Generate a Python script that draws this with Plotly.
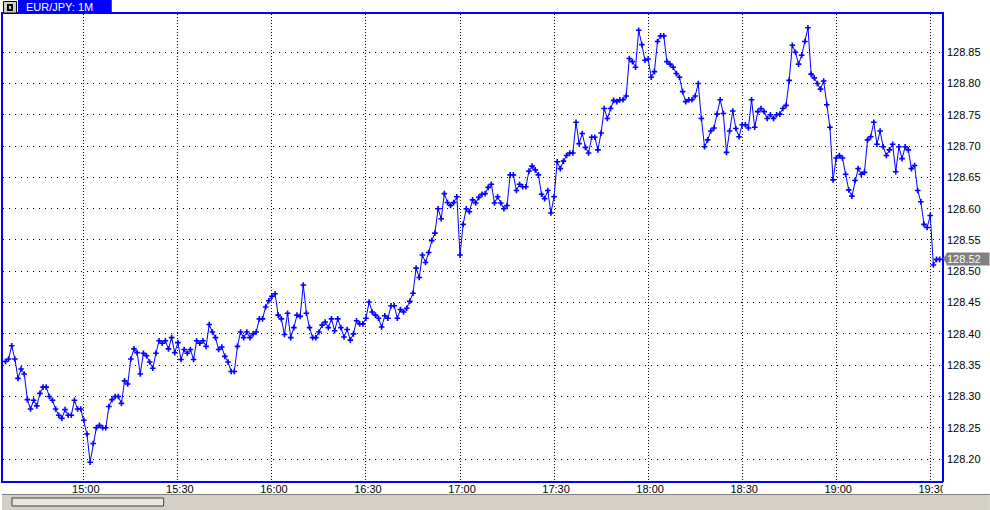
import pandas as pd
import plotly.graph_objects as go

# ---- data (EUR/JPY 1-minute closes) ----
start_time = "2005-01-03 14:35"
p_1435 = [128.356, 128.360, 128.381, 128.360, 128.329, 128.344, 128.336, 128.295, 128.280, 128.294,
          128.285, 128.305, 128.315, 128.315, 128.300, 128.294, 128.280, 128.270, 128.265, 128.279,
          128.270, 128.270, 128.294, 128.280, 128.280]
p_1500 = [128.262, 128.240, 128.195, 128.225, 128.250, 128.254, 128.250, 128.250, 128.284, 128.295,
          128.300, 128.300, 128.289, 128.325, 128.320, 128.360, 128.376, 128.370, 128.336, 128.369,
          128.365, 128.355, 128.345, 128.369, 128.389, 128.385, 128.389, 128.376, 128.394, 128.370]
p_1530 = [128.386, 128.359, 128.375, 128.369, 128.375, 128.359, 128.389, 128.385, 128.389, 128.380,
          128.415, 128.403, 128.394, 128.375, 128.379, 128.364, 128.355, 128.340, 128.340, 128.380,
          128.403, 128.394, 128.403, 128.394, 128.400, 128.403, 128.424, 128.424, 128.443, 128.453]
p_1600 = [128.460, 128.464, 128.430, 128.424, 128.399, 128.433, 128.394, 128.410, 128.430, 128.428,
          128.478, 128.433, 128.410, 128.394, 128.394, 128.403, 128.414, 128.419, 128.410, 128.424,
          128.405, 128.424, 128.410, 128.395, 128.407, 128.390, 128.400, 128.421, 128.416, 128.416]
p_1630 = [128.425, 128.451, 128.435, 128.430, 128.425, 128.411, 128.429, 128.425, 128.445, 128.445,
          128.425, 128.439, 128.435, 128.441, 128.452, 128.465, 128.505, 128.490, 128.526, 128.514,
          128.530, 128.549, 128.561, 128.600, 128.584, 128.624, 128.610, 128.605, 128.610, 128.619]
p_1700 = [128.526, 128.575, 128.600, 128.595, 128.614, 128.609, 128.618, 128.623, 128.624, 128.634,
          128.639, 128.609, 128.619, 128.609, 128.600, 128.605, 128.654, 128.654, 128.629, 128.639,
          128.635, 128.635, 128.660, 128.668, 128.662, 128.654, 128.623, 128.616, 128.629, 128.593]
p_1730 = [128.619, 128.675, 128.664, 128.676, 128.685, 128.689, 128.689, 128.738, 128.704, 128.720,
          128.698, 128.689, 128.714, 128.714, 128.694, 128.721, 128.760, 128.744, 128.760, 128.773,
          128.771, 128.774, 128.774, 128.780, 128.840, 128.835, 128.826, 128.885, 128.862, 128.837]
p_1800 = [128.839, 128.810, 128.819, 128.867, 128.876, 128.876, 128.835, 128.831, 128.826, 128.816,
          128.810, 128.787, 128.771, 128.774, 128.774, 128.780, 128.800, 128.744, 128.699, 128.710,
          128.724, 128.729, 128.751, 128.774, 128.752, 128.690, 128.724, 128.756, 128.728, 128.715]
p_1830 = [128.734, 128.734, 128.729, 128.774, 128.730, 128.755, 128.760, 128.755, 128.744, 128.750,
          128.744, 128.750, 128.751, 128.760, 128.765, 128.805, 128.861, 128.850, 128.831, 128.845,
          128.867, 128.889, 128.815, 128.809, 128.800, 128.791, 128.804, 128.766, 128.730, 128.646]
p_1900 = [128.681, 128.685, 128.681, 128.655, 128.630, 128.620, 128.645, 128.664, 128.655, 128.658,
          128.710, 128.715, 128.738, 128.703, 128.724, 128.699, 128.685, 128.694, 128.703, 128.659,
          128.699, 128.680, 128.699, 128.694, 128.664, 128.669, 128.629, 128.611, 128.575, 128.570,
          128.589, 128.510, 128.519, 128.519]

y_ticks = [128.20, 128.25, 128.30, 128.35, 128.40, 128.45, 128.50,
           128.55, 128.60, 128.65, 128.70, 128.75, 128.80, 128.85]
x_tick_labels = ["15:00", "15:30", "16:00", "16:30", "17:00", "17:30",
                 "18:00", "18:30", "19:00", "19:30"]
y_range = [128.165, 128.911]
x_range = ["2005-01-03 14:34:13", "2005-01-03 19:33:45"]
title_text = "EUR/JPY: 1M"

prices = p_1435 + p_1500 + p_1530 + p_1600 + p_1630 + p_1700 + p_1730 + p_1800 + p_1830 + p_1900
times = pd.date_range(start_time, periods=len(prices), freq="1min")
x_tick_vals = [pd.Timestamp("2005-01-03 " + t) for t in x_tick_labels]
last_price = round(prices[-1], 2)

# ---- geometry helpers (pixels -> paper) ----
W, H = 990, 510
ML, MR, MT, MB = 1, 48, 14, 29
PW, PH = W - ML - MR, H - MT - MB


def px(x):
    return (x - ML) / PW


def py(y):
    return (H - MB - y) / PH


FONT = "Liberation Sans, Arial, sans-serif"
BLUE = "#0000FF"

fig = go.Figure()
fig.add_trace(go.Scatter(
    x=times, y=prices, mode="lines+markers",
    line=dict(color=BLUE, width=1),
    marker=dict(symbol="cross-thin", size=4, line=dict(color=BLUE, width=1.6)),
    hoverinfo="skip", showlegend=False,
))

fig.update_layout(
    width=W, height=H,
    margin=dict(l=ML, r=MR, t=MT, b=MB, pad=0),
    paper_bgcolor="white", plot_bgcolor="white",
    font=dict(family=FONT, size=11, color="black"),
    xaxis=dict(
        type="date", range=x_range, tickvals=x_tick_vals, ticktext=x_tick_labels,
        showgrid=True, gridcolor="#000000", gridwidth=1, griddash="1px,2px",
        ticks="", showline=True, linecolor=BLUE, linewidth=1.5, mirror=True,
        zeroline=False, ticklabelshift=2, ticklabelstandoff=-3,
        tickfont=dict(family=FONT, size=11, color="black"),
    ),
    yaxis=dict(
        side="right", range=y_range, tickvals=y_ticks, tickformat=".2f",
        showgrid=True, gridcolor="#000000", gridwidth=1, griddash="1px,5px",
        ticks="", showline=True, linecolor=BLUE, linewidth=1.5, mirror=True,
        zeroline=False, ticklabelstandoff=1,
        tickfont=dict(family=FONT, size=11, color="black"),
    ),
)

shapes = []
# clip the last time label at the plot border
shapes.append(dict(type="rect", xref="paper", yref="paper", x0=px(943), x1=px(990),
                   y0=py(494), y1=py(482), fillcolor="white", line=dict(width=0), layer="above"))
# bottom scrollbar strip
shapes.append(dict(type="rect", xref="paper", yref="paper", x0=px(0), x1=px(990),
                   y0=py(510), y1=py(494), fillcolor="#D4D0C8", line=dict(width=0), layer="above"))
shapes.append(dict(type="line", xref="paper", yref="paper", x0=px(0), x1=px(990),
                   y0=py(494.5), y1=py(494.5), line=dict(color="#808080", width=1), layer="above"))
shapes.append(dict(type="rect", xref="paper", yref="paper", x0=px(10), x1=px(162),
                   y0=py(506), y1=py(498), fillcolor="#E8E6E2", line=dict(color="#404040", width=1),
                   layer="above"))
# title tab and icon
shapes.append(dict(type="rect", xref="paper", yref="paper", x0=px(16), x1=px(110),
                   y0=py(14), y1=py(0), fillcolor=BLUE, line=dict(width=0), layer="above"))
shapes.append(dict(type="rect", xref="paper", yref="paper", x0=px(1.5), x1=px(14.5),
                   y0=py(13), y1=py(1.5), fillcolor="#D4D0C8", line=dict(color="#000000", width=1),
                   layer="above"))
shapes.append(dict(type="rect", xref="paper", yref="paper", x0=px(5), x1=px(11),
                   y0=py(11), y1=py(4), fillcolor="#000000", line=dict(width=0), layer="above"))
shapes.append(dict(type="rect", xref="paper", yref="paper", x0=px(7), x1=px(9),
                   y0=py(9), y1=py(6), fillcolor="#D4D0C8", line=dict(width=0), layer="above"))
# last-price marker triangle
tri_x0, tri_x1 = px(943), px(947)
fig.add_shape(type="path", xref="paper", yref="y",
              path=f"M {tri_x0},{last_price} L {tri_x1},{last_price + 0.0088} "
                   f"L {tri_x1},{last_price - 0.0088} Z",
              fillcolor="#808080", line=dict(width=0), layer="above")
for s in shapes:
    fig.add_shape(**s)

fig.add_annotation(
    xref="paper", yref="y", x=px(946), y=last_price, xanchor="left", yanchor="middle",
    text=f"{last_price:.2f}", showarrow=False, bgcolor="#808080",
    font=dict(family=FONT, size=11, color="white"), borderpad=0, width=42, align="left",
)
fig.add_annotation(
    xref="paper", yref="paper", x=px(22), y=py(7), xanchor="left", yanchor="middle",
    text=title_text, showarrow=False, font=dict(family=FONT, size=11, color="white"),
)

fig.write_html("out.html", config={"displayModeBar": False},
               post_script="document.body.style.margin='0';document.body.style.overflow='hidden';")
